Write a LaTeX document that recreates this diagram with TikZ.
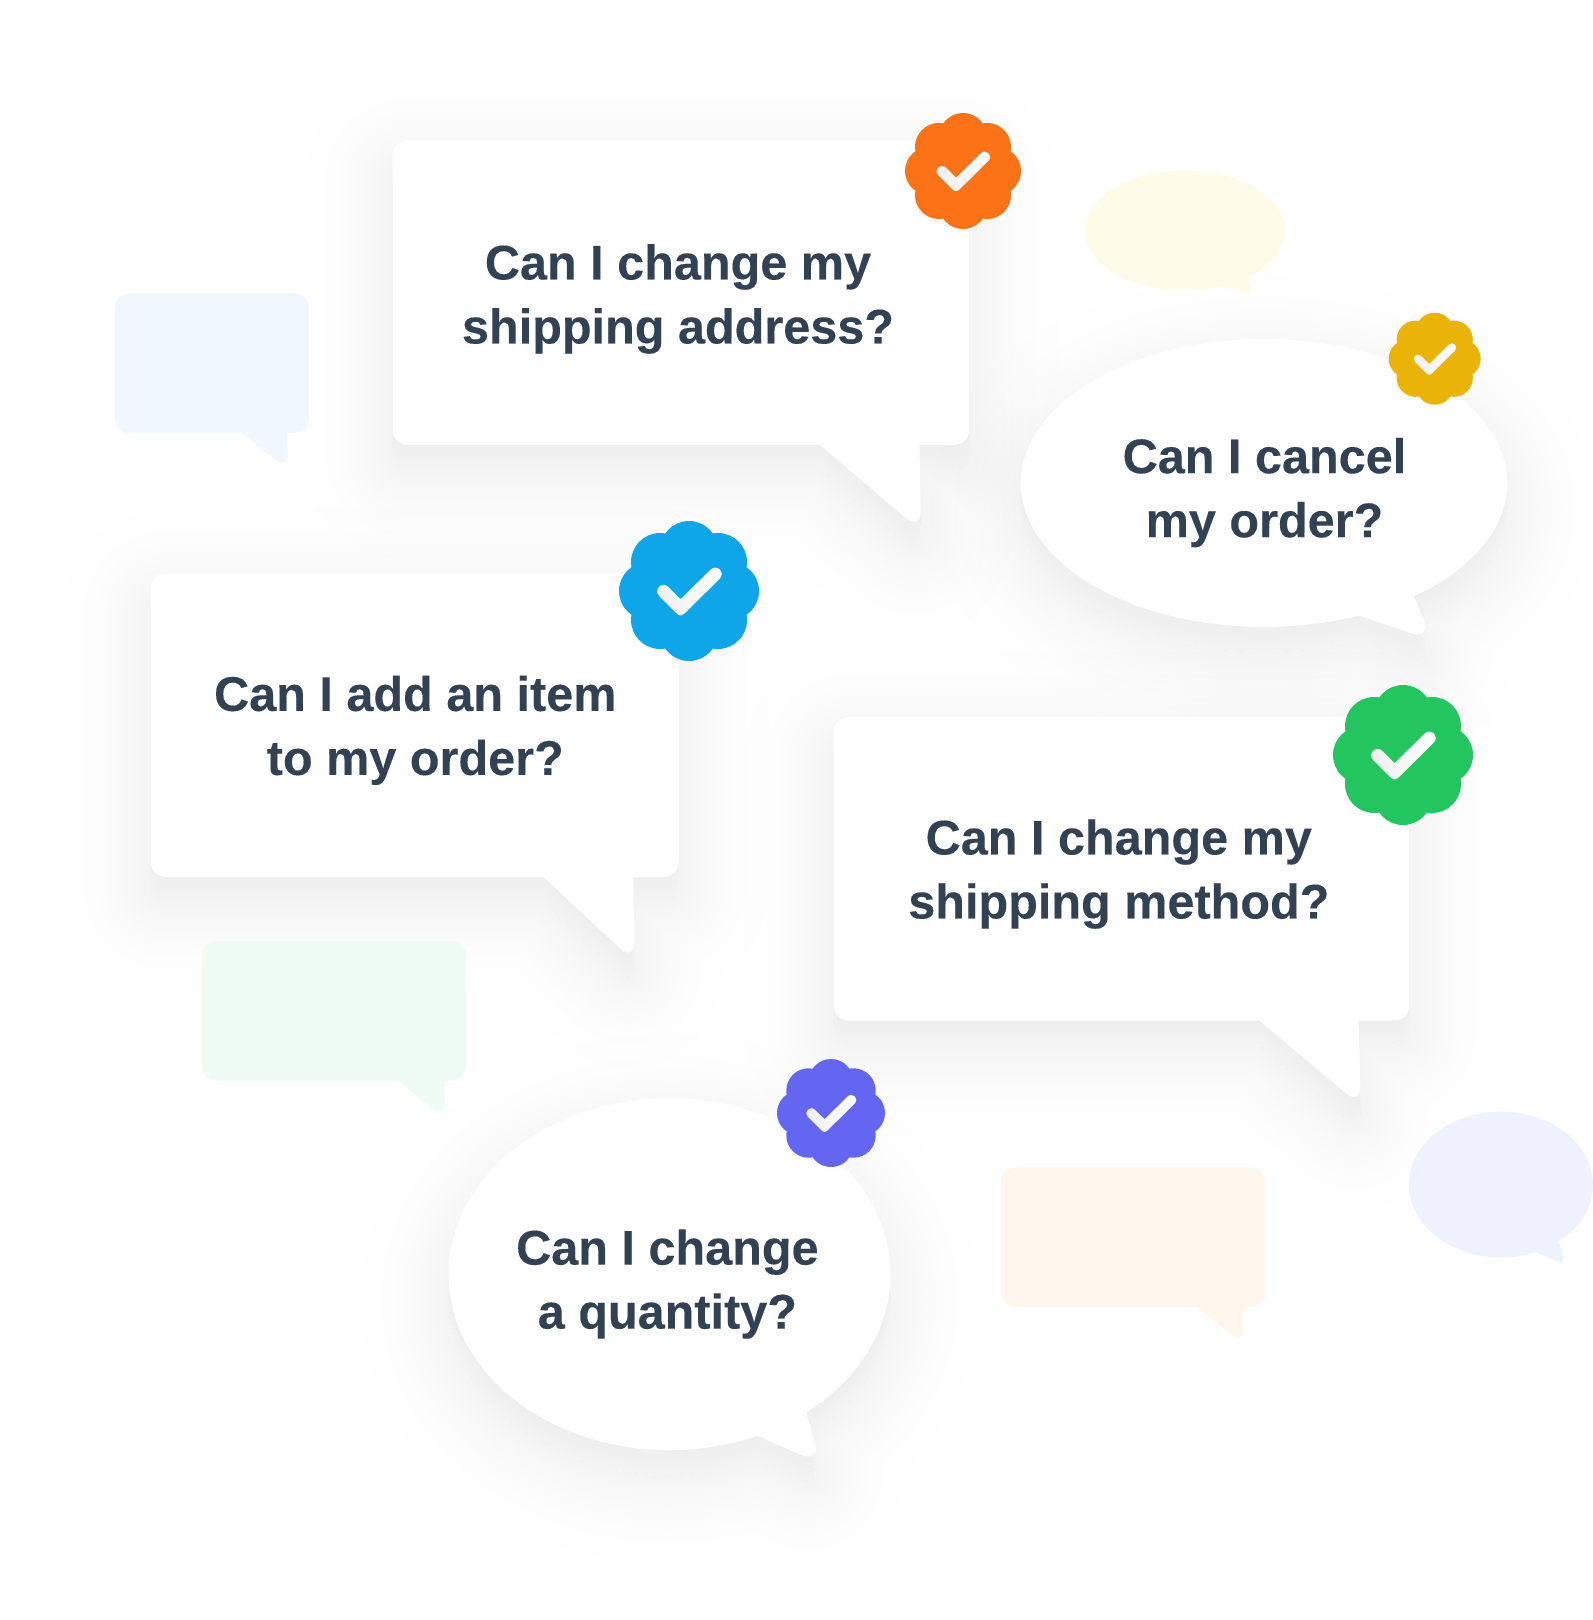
\documentclass[tikz,border=0pt]{standalone}
\usetikzlibrary{calc}
\usepackage{fontspec}
\setmainfont{Liberation Sans}[BoldFeatures={FakeBold=0.2}]
\definecolor{ink}{HTML}{334155}
\definecolor{cOrange}{HTML}{FB7316}
\definecolor{cGold}{HTML}{EAB308}
\definecolor{cBlue}{HTML}{0EA5E9}
\definecolor{cGreen}{HTML}{22C55E}
\definecolor{cIndigo}{HTML}{6366F1}
\definecolor{pBlue}{HTML}{F0F7FE}
\definecolor{pGreen}{HTML}{EFFCF3}
\definecolor{pOrange}{HTML}{FFF7EE}
\definecolor{pYellow}{HTML}{FEFBE8}
\definecolor{pIndigo}{HTML}{EEF2FE}
\definecolor{checkShade}{HTML}{EEEEEE}
\tikzset{
  qtext/.style={font=\fontsize{24.3}{32}\selectfont\bfseries, text=ink, align=center, inner sep=0pt},
  shadowfill/.style={fill=black, fill opacity=.0042},
  shadowring/.style={draw=black, draw opacity=.0042, line join=round},
}
% x1,y1,x2,y2, tail left x, tip x, tip y, tail right x, tip distance
\newcommand\BoxPath[9]{(#8,#4) [rounded corners=7.5pt] -- (#3,#4) -- (#3,#2) -- (#1,#2) -- (#1,#4) [sharp corners] -- (#5,#4)
  -- ($(#6,#7)!#9!(#5,#4)$) .. controls ($(#6,#7)!.45*#9!(#5,#4)$) and ($(#6,#7)!.45*#9!(#8,#4)$) .. ($(#6,#7)!#9!(#8,#4)$) -- cycle}
% cx,cy,rx,ry, start angle, end angle, tip x, tip y, tip distance
\newcommand\EllPath[9]{plot[domain=#5:#6,samples=120,variable=\t] ({#1+#3*cos(\t)},{#2+#4*sin(\t)})
  -- ($(#7,#8)!#9!({#1+#3*cos(#6)},{#2+#4*sin(#6)})$) .. controls ($(#7,#8)!.45*#9!({#1+#3*cos(#6)},{#2+#4*sin(#6)})$) and ($(#7,#8)!.45*#9!({#1+#3*cos(#5)},{#2+#4*sin(#5)})$) .. ($(#7,#8)!#9!({#1+#3*cos(#5)},{#2+#4*sin(#5)})$) -- cycle}
% shadow stack: sigma 45, offset 25 units (12.5pt)
\newcommand\ShadowOf[1]{%
  \foreach \dy in {22.4,17.3,12,6.5,.8}{\path[shadowfill,yshift={-\dy*.5pt}] #1;}
  \path[fill=black,fill opacity=.0462,yshift=-12.5pt] #1;
  \begin{scope}[yshift=-12.5pt,even odd rule]
    \clip (-400,-400) rectangle (2000,2000) #1;
    \foreach \rr in {2.6,7.7,13,18.5,24.2,30.3,37.1,45,54.3,67,90}{\path[shadowring,line width=\rr pt] #1;}
  \end{scope}
}
% badge: cx, cy, radius, colour
\newcommand\Badge[4]{%
  \begin{scope}[shift={(#1,#2)},scale=#3]
    \fill[#4] (0,0) circle[radius=.7]
      \foreach \a in {0,45,...,315}{ ({.586*cos(\a)},{.586*sin(\a)}) circle[radius=.414] };
    \shade[left color=checkShade,right color=white]
      (-.427,.07) .. controls (-.514,-.017) and (-.384,-.147) .. (-.297,-.06)
      -- (-.12,.116) -- (.309,-.306)
      .. controls (.396,-.393) and (.526,-.263) .. (.439,-.176)
      -- (-.055,.312) .. controls (-.105,.362) and (-.135,.362) .. (-.185,.312) -- cycle;
  \end{scope}}
\begin{document}
\begin{tikzpicture}[x=.5pt,y=-.5pt]
\useasboundingbox (0,0) rectangle (1593,1620);
\fill[white] (0,0) rectangle (1593,1620);
\def\BoxA{\BoxPath{392.6}{140.5}{969}{445}{820}{921}{531}{919.5}{10pt}}
\def\EllB{\EllPath{1264}{483}{243.3}{144}{67}{412}{1432.3}{640.3}{11pt}}
\def\BoxC{\BoxPath{150.8}{573.4}{678.8}{877}{543.4}{634.5}{962}{633.3}{10pt}}
\def\BoxD{\BoxPath{833.7}{717}{1409}{1020.7}{1259.3}{1361}{1106}{1358.5}{10pt}}
\def\EllE{\EllPath{669.5}{1274.3}{221}{176}{66.6}{411.8}{821}{1463.6}{11pt}}
\begin{scope}
\clip (0,0) rectangle (1593,1620);
\ShadowOf{\BoxA}
\ShadowOf{\EllB}
\ShadowOf{\BoxC}
\ShadowOf{\BoxD}
\ShadowOf{\EllE}
\end{scope}
% pale bubbles
\fill[pBlue] \BoxPath{114.7}{293.4}{308.9}{432.9}{241.7}{288}{470}{287.2}{8pt};
\fill[pGreen] \BoxPath{201.5}{941}{466}{1080.6}{398.8}{445}{1119}{444.2}{8pt};
\fill[pOrange] \BoxPath{1001}{1167.4}{1265.6}{1306.9}{1197.4}{1244}{1345}{1242.8}{8pt};
\fill[pYellow] \EllPath{1185}{230.4}{100.2}{59.9}{69.4}{411.5}{1253}{294}{4pt};
\fill[pIndigo] \EllPath{1501}{1184.5}{92}{72.9}{68}{411.2}{1566}{1265}{5pt};
% white bubbles
\fill[white] \BoxA;
\fill[white] \EllB;
\fill[white] \BoxC;
\fill[white] \BoxD;
\fill[white] \EllE;
% texts
\node[qtext] (q1) at (678,299) {Can I change my\\shipping address?};
\node[qtext] (q2) at (1264.5,492.6) {Can I cancel\\my order?};
\node[qtext] (q3) at (415.3,730.3) {Can I add an item\\to my order?};
\node[qtext] (q4) at (1118.8,874) {Can I change my\\shipping method?};
\node[qtext] (q5) at (667.4,1284) {Can I change\\a quantity?};
% badges
\Badge{963}{171}{58}{cOrange}
\Badge{1434.7}{358.7}{46}{cGold}
\Badge{689}{591}{70}{cBlue}
\Badge{1403}{755}{70}{cGreen}
\Badge{831}{1113}{54}{cIndigo}
\end{tikzpicture}
\end{document}
